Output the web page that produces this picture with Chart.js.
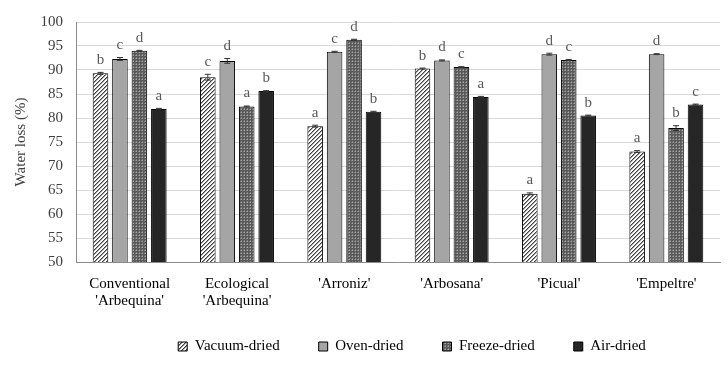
<!DOCTYPE html>
<html>
<head>
<meta charset="utf-8">
<script src="https://cdn.jsdelivr.net/npm/chart.js@4.4.1/dist/chart.umd.min.js"></script>
<style>
  html, body { margin: 0; padding: 0; background: #fff; }
  #wrap { width: 727px; height: 366px; }
</style>
</head>
<body>
<div id="wrap"><canvas id="chart" width="727" height="366"></canvas></div>
<script>
// Datos
const categories = [["Conventional", "'Arbequina'"], ["Ecological", "'Arbequina'"], "'Arroniz'", "'Arbosana'", "'Picual'", "'Empeltre'"];
const seriesNames = ["Vacuum-dried", "Oven-dried", "Freeze-dried", "Air-dried"];

const vacuum = [89.3, 88.5, 78.3, 90.3, 64.2, 73.0];
const oven = [92.3, 91.9, 93.8, 92.0, 93.3, 93.3];
const freeze = [94.0, 82.4, 96.3, 90.6, 92.1, 77.9];
const air = [81.9, 85.6, 81.3, 84.4, 80.5, 82.8];

const vacuumErr = [0.2, 0.6, 0.2, 0.1, 0.2, 0.2];
const ovenErr = [0.3, 0.5, 0.1, 0.1, 0.2, 0.1];
const freezeErr = [0.1, 0.1, 0.1, 0.1, 0.1, 0.5];
const airErr = [0.1, 0.1, 0.1, 0.1, 0.1, 0.1];

const vacuumLetters = ["b", "c", "a", "b", "a", "a"];
const ovenLetters = ["c", "d", "c", "d", "d", "d"];
const freezeLetters = ["d", "a", "d", "c", "c", "b"];
const airLetters = ["a", "b", "b", "a", "b", "c"];

const yTicks = [50, 55, 60, 65, 70, 75, 80, 85, 90, 95, 100];

// Patrones de relleno
function hatchPattern() {
  const c = document.createElement("canvas");
  c.width = 4; c.height = 4;
  const x = c.getContext("2d");
  x.fillStyle = "#ffffff";
  x.fillRect(0, 0, 4, 4);
  x.fillStyle = "#404040";
  for (let i = 0; i < 4; i++) {
    x.fillRect(3 - i, i, 1, 1);
  }
  x.fillStyle = "#9a9a9a";
  for (let i = 0; i < 4; i++) {
    x.fillRect((4 - i) % 4, i, 1, 1);
  }
  return x.createPattern(c, "repeat");
}

function gridPattern() {
  const c = document.createElement("canvas");
  c.width = 3; c.height = 3;
  const x = c.getContext("2d");
  x.fillStyle = "#5a5a5a";
  x.fillRect(0, 0, 3, 3);
  x.fillStyle = "#a8a8a8";
  x.fillRect(1, 1, 1, 1);
  x.fillStyle = "#808080";
  x.fillRect(0, 1, 1, 1);
  x.fillRect(1, 0, 1, 1);
  return x.createPattern(c, "repeat");
}

const errs = [vacuumErr, ovenErr, freezeErr, airErr];
const letters = [vacuumLetters, ovenLetters, freezeLetters, airLetters];

// Barras de error y letras sobre cada barra
const annotations = {
  id: "annotations",
  afterLayout(chart) {
    // mover la leyenda a su sitio, como en el original
    const lg = chart.legend;
    lg.left += 52;
    lg.right += 52;
    lg.top -= 12;
    lg.bottom -= 12;
  },
  afterDatasetsDraw(chart) {
    const ctx = chart.ctx;
    const y = chart.scales.y;
    ctx.save();
    chart.data.datasets.forEach((ds, di) => {
      const meta = chart.getDatasetMeta(di);
      meta.data.forEach((bar, i) => {
        const v = ds.data[i];
        const e = errs[di][i];
        const yHi = y.getPixelForValue(v + e);
        const yLo = y.getPixelForValue(v - e);
        ctx.strokeStyle = "#333";
        ctx.lineWidth = 1;
        ctx.beginPath();
        ctx.moveTo(bar.x, yHi); ctx.lineTo(bar.x, yLo);
        ctx.moveTo(bar.x - 3, yHi); ctx.lineTo(bar.x + 3, yHi);
        ctx.moveTo(bar.x - 3, yLo); ctx.lineTo(bar.x + 3, yLo);
        ctx.stroke();
        ctx.fillStyle = "#595959";
        ctx.font = "15px 'Liberation Serif'";
        ctx.textAlign = "center";
        ctx.textBaseline = "bottom";
        ctx.fillText(letters[di][i], bar.x, yHi - 5);
      });
    });
    ctx.restore();
  }
};

const ctx = document.getElementById("chart").getContext("2d");
new Chart(ctx, {
  type: "bar",
  data: {
    labels: categories,
    datasets: [
      { label: seriesNames[0], data: vacuum, backgroundColor: hatchPattern(), borderColor: "#000", borderWidth: 1 },
      { label: seriesNames[1], data: oven, backgroundColor: "#a5a5a5", borderColor: "#000", borderWidth: 1 },
      { label: seriesNames[2], data: freeze, backgroundColor: gridPattern(), borderColor: "#000", borderWidth: 1 },
      { label: seriesNames[3], data: air, backgroundColor: "#262626", borderColor: "#000", borderWidth: 1 },
    ],
  },
  options: {
    responsive: false,
    animation: false,
    devicePixelRatio: 1,
    layout: { padding: { top: 14, right: 7, bottom: -10, left: 0 } },
    datasets: { bar: { categoryPercentage: 0.725, barPercentage: 0.8 } },
    scales: {
      x: {
        grid: { display: false, drawTicks: false },
        border: { color: "#8c8c8c", width: 1 },
        ticks: { color: "#000", font: { family: "Liberation Serif", size: 15, lineHeight: 1.15 }, padding: 13, maxRotation: 0, autoSkip: false },
        afterFit(s) { s.height = 50; },
      },
      y: {
        min: 50,
        max: 100,
        afterBuildTicks(s) { s.ticks = yTicks.map(v => ({ value: v })); },
        grid: { color: "#d9d9d9", drawTicks: false },
        border: { color: "#8c8c8c", width: 1 },
        ticks: { color: "#404040", font: { family: "Liberation Serif", size: 15 }, padding: 13 },
        title: { display: true, text: "Water loss (%)", color: "#404040", font: { family: "Liberation Serif", size: 15 }, padding: { top: 12, bottom: 6 } },
        afterFit(s) { s.width = 76; },
      },
    },
    plugins: {
      legend: {
        position: "bottom",
        labels: {
          color: "#000",
          font: { family: "Liberation Serif", size: 15 },
          boxWidth: 9,
          boxHeight: 9,
          padding: 39,
        },
      },
      tooltip: { enabled: false },
    },
  },
  plugins: [annotations],
});
</script>
</body>
</html>
